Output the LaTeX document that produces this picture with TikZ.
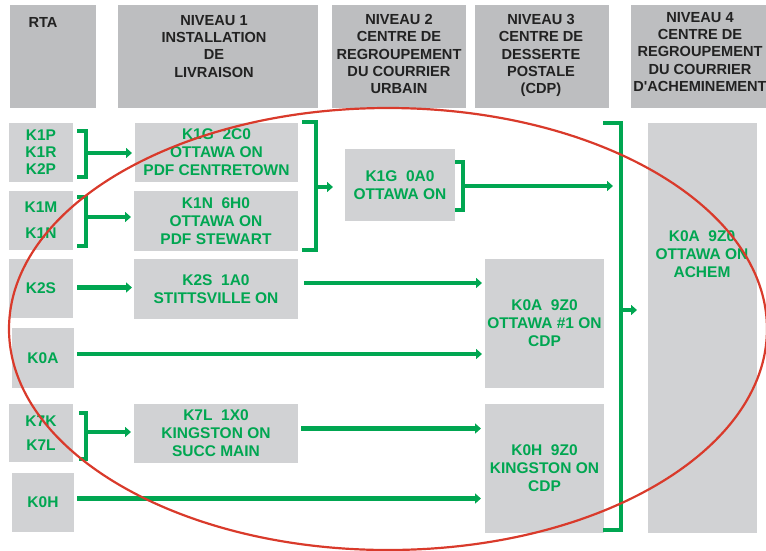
\documentclass[tikz,border=0pt]{standalone}
\usepackage{fontspec}
\setmainfont{Liberation Sans}
\usetikzlibrary{arrows.meta,calc}
\definecolor{postgreen}{HTML}{00A651}
\definecolor{hdrgray}{HTML}{BDBEC0}
\definecolor{boxgray}{HTML}{D1D2D4}
\definecolor{hdrtext}{HTML}{222222}
\definecolor{ovalred}{HTML}{D93A2B}
\newcommand\hdrfont{\fontsize{14.6}{17.3}\selectfont\bfseries}
\newcommand\bodyfont{\fontsize{15.5}{18}\selectfont\bfseries}

\begin{document}
\begin{tikzpicture}[x=1pt,y=-1pt,
	hdr/.style={fill=hdrgray,anchor=north west,inner sep=0pt,outer sep=0pt},
	hdrtxt/.style={anchor=north,inner sep=0pt,align=center,text=hdrtext,font=\hdrfont},
	cell/.style={fill=boxgray,anchor=north west,inner sep=0pt,outer sep=0pt,align=center,text=postgreen,font=\bodyfont},
	brk/.style={draw=postgreen,line width=4.5pt},
	flow/.style={draw=postgreen,line width=4.5pt,-{Triangle[length=6pt,width=10pt]}},
	oval/.style={draw=ovalred,line width=2.2pt}]
			%%%%% START %%%%%
			\useasboundingbox (0,0) rectangle (766,550);
			
			%%%%% headers
			\node[hdr,minimum width=86,minimum height=103] (rta) at (10,5) {};
			\node[hdr,minimum width=200,minimum height=103] (niv1) at (118,5) {};
			\node[hdr,minimum width=134,minimum height=103] (niv2) at (332,5) {};
			\node[hdr,minimum width=134,minimum height=103] (niv3) at (475,5) {};
			\node[hdr,minimum width=140,minimum height=103] (niv4) at (631,5) {};
			
			\node[hdrtxt] (rtatxt) at (43,17) {RTA};
			\node[hdrtxt] (niv1txt) at (214,15) {NIVEAU 1\\INSTALLATION\\DE\\LIVRAISON};
			\node[hdrtxt] (niv2txt) at (399,14) {NIVEAU 2\\CENTRE DE\\REGROUPEMENT\\DU COURRIER\\URBAIN};
			\node[hdrtxt] (niv3txt) at (541,14) {NIVEAU 3\\CENTRE DE\\DESSERTE\\POSTALE\\(CDP)};
			\node[hdrtxt] (niv4txt) at (700,12) {NIVEAU 4\\CENTRE DE\\REGROUPEMENT\\DU COURRIER\\D\textquotesingle ACHEMINEMENT};
			
			%%%%% RTA
			\node[cell,minimum width=64,minimum height=59] (kp) at (9,123) {K1P\\[-1pt]K1R\\[-1pt]K2P};
			\node[cell,minimum width=64,minimum height=59] (km) at (9,191) {K1M\\[8pt]K1N};
			\node[cell,minimum width=64,minimum height=59] (ks) at (9,259) {K2S};
			\node[cell,minimum width=62,minimum height=60] (ka) at (12,328) {K0A};
			\node[cell,minimum width=64,minimum height=58] (kk) at (9,404) {K7K\\[6pt]K7L};
			\node[cell,minimum width=62,minimum height=59] (kh) at (12,473) {K0H};
			
			%%%%% niveau 1
			\node[cell,minimum width=163,minimum height=59] (ctw) at (135,123) {K1G~~2C0\\OTTAWA ON\\PDF CENTRETOWN};
			\node[cell,minimum width=164,minimum height=60] (stw) at (134,191) {K1N~~6H0\\OTTAWA ON\\PDF STEWART};
			\node[cell,minimum width=164,minimum height=60] (stt) at (134,259) {K2S~~1A0\\STITTSVILLE ON};
			\node[cell,minimum width=164,minimum height=59] (kgn) at (134,404) {K7L~~1X0\\KINGSTON ON\\SUCC MAIN};
			
			%%%%% niveau 2, 3, 4
			\node[cell,minimum width=110,minimum height=72] (urb) at (345,149) {K1G~~0A0\\OTTAWA ON};
			\node[cell,minimum width=119,minimum height=129] (cdpa) at (485,259) {K0A~~9Z0\\OTTAWA \#1 ON\\CDP};
			\node[cell,minimum width=119,minimum height=129] (cdph) at (485,404) {K0H~~9Z0\\KINGSTON ON\\CDP};
			\node[cell,minimum width=109,minimum height=410] (achem) at (648,123) {};
			\node[cell,fill=none,anchor=center] (achemtxt) at (702,254) {K0A~~9Z0\\OTTAWA ON\\ACHEM};
			
			%%%%% brackets
			\draw[brk] (77,131) -| (86,177) -- (77,177);
			\coordinate (b1) at (86,153);
			\draw[brk] (77,197) -| (86,246) -- (77,246);
			\coordinate (b2) at (86,217);
			\draw[brk] (302,122) -| (316,250) -- (302,250);
			\coordinate (b3) at (316,187);
			\draw[brk] (455,162) -| (463,210) -- (455,210);
			\coordinate (b4) at (463,186);
			\draw[brk] (603,123) -| (621,530) -- (603,530);
			\coordinate (b5) at (621,310);
			\draw[brk] (79,413) -| (86,459) -- (79,459);
			\coordinate (b6) at (86,432);
			
			%%%%% arrows
			\draw[flow] (b1) -- ([xshift=-3pt]b1 -| ctw.west);
			\draw[flow] (b2) -- ([xshift=-3pt]b2 -| stw.west);
			\draw[flow] (b3) -- ([xshift=-12pt]b3 -| urb.west);
			\draw[flow] (b4) -- ([xshift=-8pt]b4 -| b5);
			\draw[flow] (b5) -- ([xshift=-11pt]b5 -| achem.west);
			\draw[flow] (b6) -- ([xshift=-3pt]b6 -| kgn.west);
			\draw[flow] ([xshift=4pt,yshift=1pt]ks.east) -- ([xshift=-2pt,yshift=1pt]ks.east -| stt.west);
			\draw[flow] ([xshift=6pt,yshift=6pt]stt.east) -- ([xshift=-3pt,yshift=6pt]stt.east -| cdpa.west);
			\draw[flow] ([xshift=3pt,yshift=4pt]ka.east) -- ([xshift=-3pt,yshift=4pt]ka.east -| cdpa.west);
			\draw[flow] ([xshift=3pt,yshift=5pt]kgn.east) -- ([xshift=-4pt,yshift=5pt]kgn.east -| cdph.west);
			\draw[flow] ([xshift=3pt,yshift=4pt]kh.east) -- ([xshift=-4pt,yshift=4pt]kh.east -| cdph.west);
			
			%%%%% red oval
			\draw[oval] (388,329) ellipse [x radius=379pt,y radius=221pt];
			%%%%% END %%%%%
\end{tikzpicture}
\end{document}
